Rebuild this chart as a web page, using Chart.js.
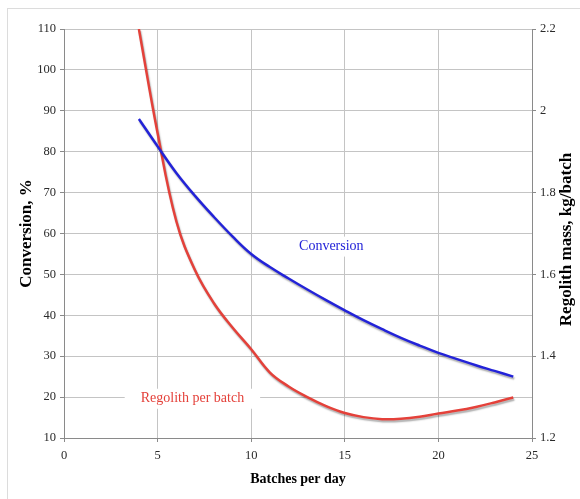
<!DOCTYPE html>
<html>
<head>
<meta charset="utf-8">
<script src="https://cdn.jsdelivr.net/npm/chart.js@4.4.1/dist/chart.umd.min.js"></script>
<style>
  html, body { margin: 0; padding: 0; background: #fff; }
  #wrap { position: relative; width: 580px; height: 499px; overflow: hidden; }
  #frame { position: absolute; left: 7px; top: 8px; right: -2px; bottom: -2px;
           border-left: 1px solid #dcdcdc; border-top: 1px solid #dcdcdc; }
  canvas { position: absolute; left: 0; top: 0; }
</style>
</head>
<body>
<div id="wrap">
  <div id="frame"></div>
  <canvas id="chart" width="580" height="499"></canvas>
</div>
<script>
// Batches processed per day
const batchesPerDay = [4, 5, 6, 7, 8, 9, 10, 11, 12, 13, 14, 15, 16, 17, 18, 19, 20, 21, 22, 23, 24];

// Conversion, % (left axis)
const conversionPct = [88, 81.3, 74.8, 69.2, 64.1, 59.3, 55, 51.8, 49, 46.3, 43.7, 41.2,
                       38.8, 36.6, 34.5, 32.6, 30.8, 29.3, 27.8, 26.4, 25];

// Regolith mass per batch, kg (right axis)
const regolithKgPerBatch = [2.2, 1.945, 1.73, 1.61, 1.53, 1.47, 1.417, 1.36, 1.326, 1.30, 1.278,
                            1.261, 1.251, 1.246, 1.247, 1.252, 1.26, 1.267, 1.276, 1.287, 1.299];

// Axis ticks
const batchTicks = [0, 5, 10, 15, 20, 25];
const conversionTicks = [10, 20, 30, 40, 50, 60, 70, 80, 90, 100, 110];
const massTicks = [1.2, 1.4, 1.6, 1.8, 2.0, 2.2];
const massTickLabels = ['1.2', '1.4', '1.6', '1.8', '2', '2.2'];

const SERIF = '"Liberation Serif", "Times New Roman", serif';
const BLUE = '#2323d8';
const RED = '#e4413a';
const GRID = '#c4c4c4';
const AXIS = '#8a8a8a';

// soft drop shadow under each curve
const curveShadow = {
  id: 'curveShadow',
  beforeDatasetDraw(chart) {
    const ctx = chart.ctx;
    ctx.save();
    ctx.shadowColor = 'rgba(0,0,0,0.32)';
    ctx.shadowOffsetX = 1;
    ctx.shadowOffsetY = 2;
    ctx.shadowBlur = 1.5;
  },
  afterDatasetDraw(chart) {
    chart.ctx.restore();
  }
};

// in-plot series names on a white backing
const seriesNames = {
  id: 'seriesNames',
  afterDatasetsDraw(chart, args, opts) {
    const { ctx, scales } = chart;
    ctx.save();
    ctx.font = '14px ' + SERIF;
    ctx.textAlign = 'center';
    ctx.textBaseline = 'middle';
    opts.items.forEach(it => {
      const px = scales.x.getPixelForValue(it.x);
      const py = scales.y.getPixelForValue(it.y);
      const w = ctx.measureText(it.text).width;
      ctx.fillStyle = '#fff';
      ctx.fillRect(px - w / 2 - it.padX, py - 10, w + 2 * it.padX, 20);
      ctx.fillStyle = it.color;
      ctx.fillText(it.text, px, py);
    });
    ctx.restore();
  }
};

// right-hand axis title, reading bottom to top
const rightTitle = {
  id: 'rightTitle',
  afterDraw(chart, args, opts) {
    const { ctx, chartArea } = chart;
    ctx.save();
    ctx.translate(opts.x, (chartArea.top + chartArea.bottom) / 2 + opts.dy);
    ctx.rotate(-Math.PI / 2);
    ctx.font = 'bold 17px ' + SERIF;
    ctx.fillStyle = '#000';
    ctx.textAlign = 'center';
    ctx.textBaseline = 'middle';
    ctx.fillText(opts.text, 0, 0);
    ctx.restore();
  }
};

const tickFont = { family: SERIF, size: 12.5 };

new Chart(document.getElementById('chart'), {
  type: 'line',
  data: {
    datasets: [
      {
        label: 'Conversion',
        data: batchesPerDay.map((b, i) => ({ x: b, y: conversionPct[i] })),
        yAxisID: 'y',
        borderColor: BLUE,
        borderWidth: 2.5,
        pointRadius: 0,
        tension: 0.4,
        fill: false
      },
      {
        label: 'Regolith per batch',
        data: batchesPerDay.map((b, i) => ({ x: b, y: regolithKgPerBatch[i] })),
        yAxisID: 'y1',
        borderColor: RED,
        borderWidth: 2.5,
        pointRadius: 0,
        tension: 0.4,
        fill: false
      }
    ]
  },
  options: {
    responsive: false,
    animation: false,
    devicePixelRatio: 1,
    layout: { padding: { top: 29, left: 0, right: 0, bottom: 0 } },
    plugins: {
      legend: { display: false },
      tooltip: { enabled: false },
      seriesNames: {
        items: [
          { text: 'Conversion', x: 14.28, y: 56.8, color: BLUE, padX: 6 },
          { text: 'Regolith per batch', x: 6.86, y: 19.6, color: RED, padX: 16 }
        ]
      },
      rightTitle: { text: 'Regolith mass, kg/batch', x: 567, dy: 6 }
    },
    scales: {
      x: {
        type: 'linear',
        min: 0, max: 25,
        afterBuildTicks: s => { s.ticks = batchTicks.map(v => ({ value: v })); },
        afterFit: s => { s.height = 61; },
        grid: { color: GRID, tickColor: AXIS, tickLength: 4 },
        border: { color: AXIS, width: 1 },
        ticks: { font: tickFont, color: '#2a2a2a', padding: 6, maxRotation: 0 },
        title: {
          display: true, text: 'Batches per day', color: '#000',
          font: { family: SERIF, size: 14, weight: 'bold' },
          padding: { top: 0, bottom: 11 }
        }
      },
      y: {
        type: 'linear',
        position: 'left',
        min: 10, max: 110,
        afterBuildTicks: s => { s.ticks = conversionTicks.map(v => ({ value: v })); },
        afterFit: s => { s.width = 64; },
        grid: { color: GRID, tickColor: AXIS, tickLength: 4 },
        border: { color: AXIS, width: 1 },
        ticks: { font: tickFont, color: '#2a2a2a', padding: 4 },
        title: {
          display: true, text: 'Conversion, %', color: '#000',
          font: { family: SERIF, size: 17, weight: 'bold' },
          padding: { top: 16, bottom: 0 }
        }
      },
      y1: {
        type: 'linear',
        position: 'right',
        min: 1.2, max: 2.2,
        afterBuildTicks: s => { s.ticks = massTicks.map(v => ({ value: v })); },
        afterFit: s => { s.width = 48; },
        grid: { drawOnChartArea: false, color: AXIS, tickColor: AXIS, tickLength: 4 },
        border: { color: AXIS, width: 1 },
        ticks: {
          font: tickFont, color: '#2a2a2a', padding: 4,
          callback: (v, i) => massTickLabels[i]
        }
      }
    }
  },
  plugins: [curveShadow, seriesNames, rightTitle]
});
</script>
</body>
</html>
